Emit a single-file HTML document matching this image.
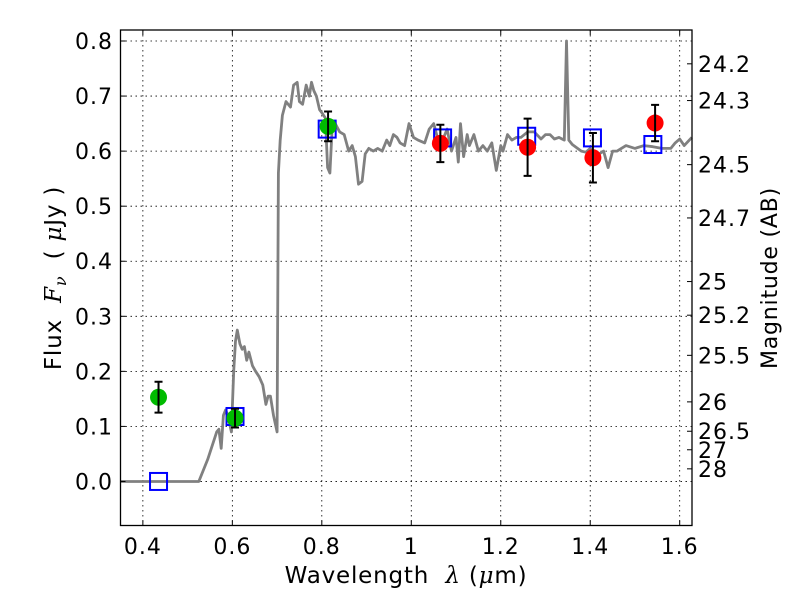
<!DOCTYPE html>
<html><head><meta charset="utf-8"><style>
html,body{margin:0;padding:0;background:#fff;}
svg{display:block;font-family:"DejaVu Sans","Liberation Sans",sans-serif;}
text{white-space:pre;}
.m{font-family:"DejaVu Serif","Liberation Serif",serif;font-style:italic;}
</style></head><body>
<svg id="chart" width="800" height="600" viewBox="0 0 800 600" xmlns="http://www.w3.org/2000/svg" xml:space="preserve">
<rect width="800" height="600" fill="#fff"/>
<g id="grid"></g>
<g id="spec"></g>
<g id="marks"></g>
<rect x="120.5" y="30" width="571.5" height="495.5" fill="none" stroke="#000" stroke-width="1.3"/>
<g id="axes"></g>
<text x="406" y="583" font-size="23" letter-spacing="0.8" text-anchor="middle">Wavelength  <tspan class="m">λ</tspan> (<tspan class="m">μ</tspan>m)</text>
<text transform="translate(61,278) rotate(-90)" font-size="23" letter-spacing="0.8" text-anchor="middle">Flux  <tspan class="m">F</tspan><tspan class="m" font-size="16" dy="5">ν</tspan><tspan dy="-5">  ( </tspan><tspan class="m">μ</tspan>Jy )</text>
<text transform="translate(777,278) rotate(-90)" font-size="22" letter-spacing="0.8" text-anchor="middle">Magnitude (AB)</text>
</svg>
<script>
const specWave=[0.35,0.525,0.545,0.565,0.57,0.575,0.58,0.585,0.59,0.598,0.603,0.607,0.611,0.617,0.622,0.627,0.632,0.637,0.645,0.652,0.66,0.668,0.675,0.68,0.685,0.692,0.7,0.703,0.707,0.712,0.72,0.73,0.737,0.745,0.75,0.757,0.765,0.772,0.777,0.782,0.788,0.795,0.8,0.808,0.813,0.818,0.823,0.83,0.84,0.85,0.86,0.868,0.875,0.882,0.89,0.897,0.905,0.915,0.925,0.935,0.945,0.952,0.96,0.968,0.975,0.985,0.995,1.005,1.015,1.03,1.04,1.05,1.06,1.07,1.08,1.09,1.1,1.105,1.11,1.117,1.125,1.13,1.14,1.15,1.16,1.17,1.18,1.19,1.2,1.205,1.215,1.225,1.235,1.245,1.26,1.275,1.29,1.3,1.31,1.32,1.33,1.342,1.347,1.352,1.36,1.38,1.39,1.4,1.41,1.42,1.43,1.44,1.45,1.46,1.48,1.5,1.52,1.54,1.56,1.58,1.59,1.6,1.61,1.627];
const specFlux=[0,0,0.04,0.09,0.095,0.06,0.12,0.13,0.12,0.09,0.2,0.255,0.275,0.25,0.24,0.245,0.22,0.235,0.21,0.2,0.19,0.175,0.14,0.155,0.155,0.12,0.09,0.56,0.62,0.665,0.69,0.68,0.72,0.725,0.69,0.685,0.72,0.7,0.725,0.71,0.7,0.675,0.67,0.66,0.57,0.56,0.64,0.65,0.635,0.63,0.6,0.61,0.59,0.54,0.545,0.595,0.605,0.6,0.605,0.6,0.62,0.61,0.63,0.625,0.615,0.61,0.65,0.625,0.62,0.615,0.64,0.65,0.62,0.62,0.64,0.6,0.625,0.58,0.65,0.59,0.63,0.61,0.63,0.6,0.61,0.6,0.615,0.565,0.61,0.6,0.63,0.62,0.625,0.625,0.635,0.635,0.622,0.63,0.63,0.622,0.625,0.62,0.8,0.62,0.612,0.6,0.598,0.605,0.59,0.595,0.6,0.57,0.6,0.6,0.61,0.605,0.61,0.608,0.605,0.605,0.615,0.622,0.61,0.625];
const obsWave=[0.435,0.606,0.814,1.065,1.26,1.406,1.545];
const obsFlux=[0.153,0.115,0.645,0.614,0.607,0.588,0.651];
const obsErr=[0.028,0.017,0.027,0.034,0.052,0.045,0.033];
const obsColor=["#00bb00","#00bb00","#00bb00","#ff0000","#ff0000","#ff0000","#ff0000"];
const modelWave=[0.435,0.606,0.812,1.07,1.258,1.405,1.54];
const modelFlux=[0.0,0.118,0.64,0.624,0.627,0.624,0.612];
const xTicks=[0.4,0.6,0.8,1.0,1.2,1.4,1.6];
const xTickLabels=["0.4","0.6","0.8","1","1.2","1.4","1.6"];
const yTicks=[0,0.1,0.2,0.3,0.4,0.5,0.6,0.7,0.8];
const yTickLabels=["0.0","0.1","0.2","0.3","0.4","0.5","0.6","0.7","0.8"];
const magTicks=[24.2,24.3,24.5,24.7,25,25.2,25.5,26,26.5,27,28];
const magTickLabels=["24.2","24.3","24.5","24.7","25","25.2","25.5","26","26.5","27","28"];

const X0=120.5,X1=692,Y0=30,Y1=525.5,xmin=0.35,xmax=1.6275,ymin=-0.08,ymax=0.82;
const sx=v=>X0+(v-xmin)/(xmax-xmin)*(X1-X0);
const sy=v=>Y1-(v-ymin)/(ymax-ymin)*(Y1-Y0);
const NS="http://www.w3.org/2000/svg";
function mk(tag,attrs,parent){const e=document.createElementNS(NS,tag);for(const k in attrs)e.setAttribute(k,attrs[k]);parent.appendChild(e);return e;}
const grid=document.getElementById('grid'),axes=document.getElementById('axes'),spec=document.getElementById('spec'),marks=document.getElementById('marks');

xTicks.forEach((t,i)=>{
  const x=sx(t);
  const g=mk('line',{x1:x,x2:x,y1:Y0,y2:Y1,stroke:'#000','stroke-width':0.8,'stroke-dasharray':'1.5,3.5'},grid);
  
  
  const a=mk('line',{x1:x,x2:x,y1:Y1,y2:Y1-5,stroke:'#000','stroke-width':1},axes);
  
  
  const b=mk('line',{x1:x,x2:x,y1:Y0,y2:Y0+5,stroke:'#000','stroke-width':1},axes);
  
  
  const tx=mk('text',{x:x,y:554,'font-size':22,'letter-spacing':1,'text-anchor':'middle'},axes);
  tx.textContent=xTickLabels[i];
  
  
});
yTicks.forEach((t,i)=>{
  const y=sy(t);
  const g=mk('line',{x1:X0,x2:X1,y1:y,y2:y,stroke:'#000','stroke-width':0.8,'stroke-dasharray':'1.5,3.5'},grid);
  
  
  const a=mk('line',{x1:X0,x2:X0+5,y1:y,y2:y,stroke:'#000','stroke-width':1},axes);
  
  
  const tx=mk('text',{x:113,y:y+8,'font-size':22,'letter-spacing':1,'text-anchor':'end'},axes);
  tx.textContent=yTickLabels[i];
  
  
});
magTicks.forEach((m,i)=>{
  const f=Math.pow(10,(23.9-m)/2.5);
  const y=sy(f);
  const a=mk('line',{x1:X1,x2:X1-5,y1:y,y2:y,stroke:'#000','stroke-width':1},axes);
  
  
  const tx=mk('text',{x:698,y:y+8,'font-size':22,'letter-spacing':1,'text-anchor':'start'},axes);
  tx.textContent=magTickLabels[i];
  
  
});

let d='';
specWave.forEach((w,i)=>{d+=(i?'L':'M')+sx(w).toFixed(1)+','+sy(specFlux[i]).toFixed(1);});
const p=mk('path',{d:d,fill:'none',stroke:'#808080','stroke-width':2.8,'stroke-linejoin':'round'},spec);



modelWave.forEach((w,i)=>{
  const x=sx(w),y=sy(modelFlux[i]);
  const r=mk('rect',{x:x-8.5,y:y-8.5,width:17,height:17,fill:'none',stroke:'#0000ff','stroke-width':2},marks);
  
  
});
obsWave.forEach((w,i)=>{
  const x=sx(w),y=sy(obsFlux[i]);
  const c=mk('circle',{cx:x,cy:y,r:8.5,fill:obsColor[i]},marks);
  
  
  const yt=sy(obsFlux[i]+obsErr[i]),yb=sy(obsFlux[i]-obsErr[i]);
  const e=mk('path',{d:`M${x},${yt}L${x},${yb}M${x-4},${yt}L${x+4},${yt}M${x-4},${yb}L${x+4},${yb}`,stroke:'#000','stroke-width':2,fill:'none'},marks);
  
  
});
</script>
</body></html>
